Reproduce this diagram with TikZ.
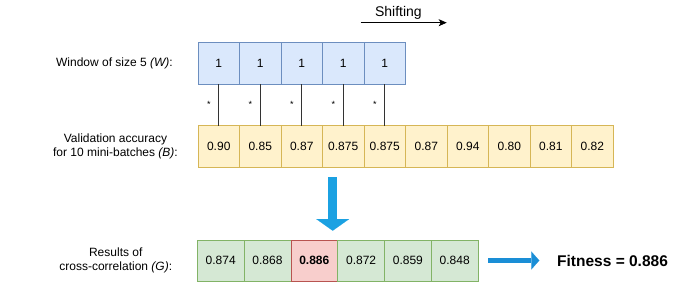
\documentclass[tikz,border=0pt]{standalone}
\usepackage{xcolor}
\usepackage{fontspec}
\setmainfont{Liberation Sans}
\usepackage{tikz}
\usetikzlibrary{positioning, arrows.meta, calc}
\definecolor{winfill}{HTML}{DAE8FC}
\definecolor{winline}{HTML}{6C8EBF}
\definecolor{accfill}{HTML}{FFF2CC}
\definecolor{accline}{HTML}{D6B656}
\definecolor{resfill}{HTML}{D5E8D4}
\definecolor{resline}{HTML}{82B366}
\definecolor{bestfill}{HTML}{F8CECC}
\definecolor{bestline}{HTML}{B85450}
\definecolor{flowblue}{HTML}{1BA1E2}
\definecolor{fitblue}{HTML}{1A8ED6}
\tikzset{
    cell/.style={rectangle, draw, line width=0.8pt, outer sep=0pt, inner sep=0pt, minimum width=41.5pt, minimum height=41.5pt, font=\fontsize{12}{14}\selectfont},
    wcell/.style={cell, fill=winfill, draw=winline},
    bcell/.style={cell, fill=accfill, draw=accline},
    gcell/.style={cell, fill=resfill, draw=resline, minimum width=46.8pt, minimum height=41pt},
    rcell/.style={gcell, fill=bestfill, draw=bestline},
    rowlabel/.style={align=center, inner sep=0pt, font=\fontsize{12}{14}\selectfont},
    tap/.style={line width=0.8pt, black!80},
    starmark/.style={inner sep=0pt, font=\fontsize{9}{9}\selectfont},
    bigdown/.style={flowblue, line width=9pt, -{Triangle[width=33pt, length=11.7pt, line width=0.1pt]}},
    bigright/.style={fitblue, line width=5pt, -{Triangle[width=18pt, length=8pt, line width=0.1pt]}},
}
\begin{document}
\begin{tikzpicture}
    \useasboundingbox (0,0) rectangle (676pt,-283pt);

    % window W
    \node[wcell] (w1) at (218.75pt,-63.5pt) {1};
    \foreach \v [count=\i from 2] in {1,1,1,1} {
        \pgfmathtruncatemacro\j{\i-1}
        \node[wcell, right=0pt of w\j] (w\i) {\v};
    }
    \node[rowlabel, left=25pt of w1] (wlab) {Window of size 5 \textit{(W)}:};

    % validation accuracy B
    \node[bcell] (b1) at (218.75pt,-146.3pt) {0.90};
    \foreach \v [count=\i from 2] in {0.85,0.87,\raisebox{-2pt}{0.875},0.875,0.87,0.94,0.80,0.81,0.82} {
        \pgfmathtruncatemacro\j{\i-1}
        \node[bcell, right=0pt of b\j] (b\i) {\v};
    }
    \node[rowlabel, left=20pt of b1] (blab) {Validation accuracy\\for 10 mini-batches \textit{(B)}:};

    % window taps
    \foreach \i in {1,...,5} {
        \draw[tap] (w\i.south) -- (b\i.north);
        \node[starmark] (s\i) at ($(w\i.south)!0.5!(b\i.north)+(-10pt,0)$) {*};
    }

    % shifting
    \coordinate (shl) at (360.7pt,-22.7pt);
    \coordinate (shr) at (446.7pt,-22.7pt);
    \draw[line width=0.8pt, -{Stealth[length=8pt, width=7pt, inset=2pt]}] (shl) -- (shr);
    \node[inner sep=0pt, font=\fontsize{14}{16}\selectfont] (shtxt) at (398.4pt,-13pt) {Shifting};

    % cross-correlation
    \coordinate (dtop) at (332.7pt,-177pt);
    \coordinate (dtip) at (332.7pt,-230.7pt);
    \draw[bigdown] (dtop) -- (dtip);

    % results G
    \node[gcell] (g1) at (220.7pt,-260.5pt) {0.874};
    \foreach \v/\st [count=\i from 2] in {0.868/gcell, \textbf{0.886}/rcell, 0.872/gcell, 0.859/gcell, 0.848/gcell} {
        \pgfmathtruncatemacro\j{\i-1}
        \node[\st, right=0pt of g\j] (g\i) {\v};
    }
    \node[rowlabel, left=25pt of g1] (glab) {Results of\\cross-correlation \textit{(G)}:};

    % fitness
    \node[inner sep=0pt, font=\fontsize{15.5}{17}\selectfont\bfseries, anchor=west] (fit) at (557pt,-261pt) {Fitness = 0.886};
    \draw[bigright] ([xshift=10.3pt]g6.east) -- ([xshift=-17.7pt]fit.west |- g6.east);
\end{tikzpicture}
\end{document}
